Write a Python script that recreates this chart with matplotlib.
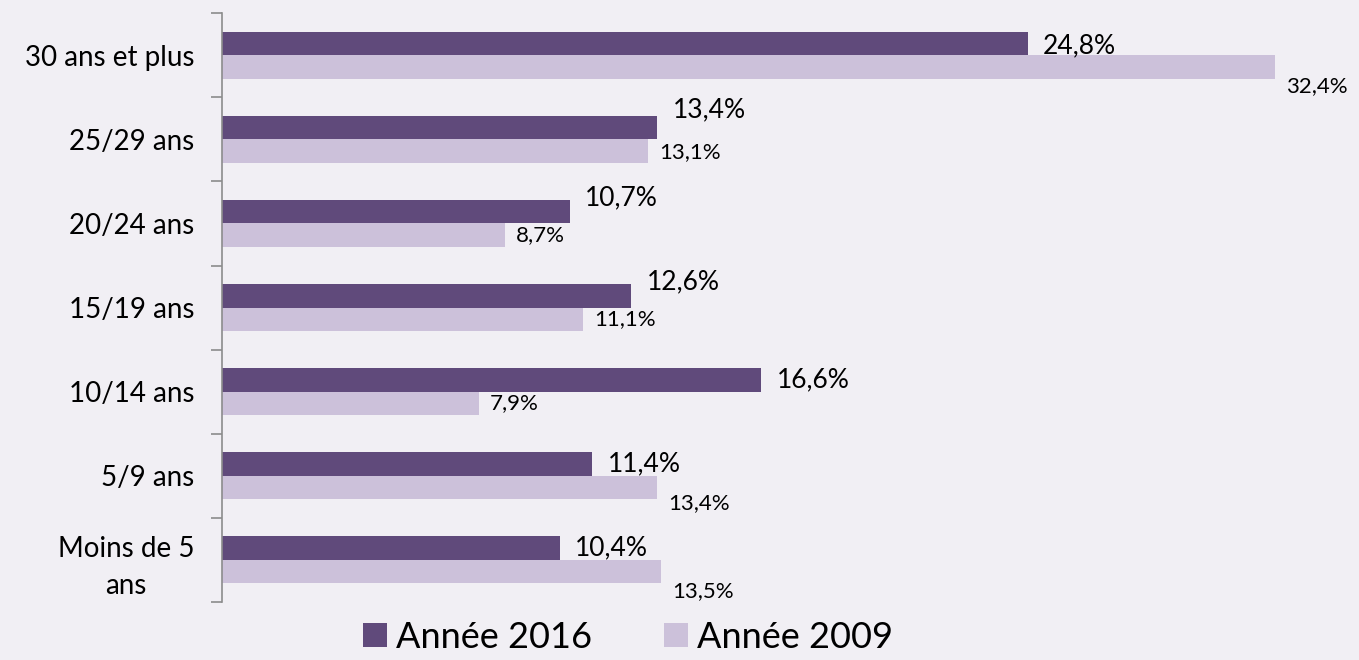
import matplotlib.pyplot as plt
import numpy as np

categories = ["Moins de 5\nans", "5/9 ans", "10/14 ans", "15/19 ans", "20/24 ans", "25/29 ans", "30 ans et plus"]
v2016 = [10.4, 11.4, 16.6, 12.6, 10.7, 13.4, 24.8]
v2009 = [13.5, 13.4, 7.9, 11.1, 8.7, 13.1, 32.4]
series_names = ["Année 2016", "Année 2009"]

# vertical nudges of the value labels (points), like the original layout
dy2016 = [0, 0, 0, 10, 10, 13, -2]
dy2009 = [-14, -11, 0, 0, 0, -1, -14]

bg = "#F1EFF4"
dark = "#604A7B"
light = "#CCC1DA"

plt.rcParams['font.family'] = ['Lato', 'DejaVu Sans']

fig = plt.figure(figsize=(13.59, 6.6), dpi=100, facecolor=bg)
ax = fig.add_axes([0.1634, 0.088, 0.8366, 0.892], facecolor=bg)

y = np.arange(len(categories))
h = 0.28
b1 = ax.barh(y + h / 2, v2016, height=h, color=dark, label=series_names[0])
b2 = ax.barh(y - h / 2, v2009, height=h, color=light, label=series_names[1])

for k in range(len(y)):
	ax.annotate(f"{v2016[k]:.1f}%".replace(".", ","), (v2016[k], y[k] + h / 2),
		xytext=(11, dy2016[k]), textcoords="offset points",
		va="center", ha="left", fontsize=19)
	ax.annotate(f"{v2009[k]:.1f}%".replace(".", ","), (v2009[k], y[k] - h / 2),
		xytext=(8, dy2009[k]), textcoords="offset points",
		va="center", ha="left", fontsize=16)

ax.set_xlim(0, 35)
ax.set_ylim(-0.5, len(categories) - 0.5)
ax.set_yticks(y)
ax.set_yticklabels(categories, fontsize=20, ha="right", multialignment="center",
	linespacing=1.5)
ax.tick_params(axis="y", length=0, pad=20)
ax.set_yticks(np.arange(len(categories) + 1) - 0.5, minor=True)
ax.tick_params(axis="y", which="minor", length=8, color="#8c8c8c", width=1.2)
ax.set_xticks([])
for s in ["top", "right", "bottom"]:
	ax.spines[s].set_visible(False)
ax.spines["left"].set_color("#8c8c8c")
ax.spines["left"].set_linewidth(1.2)

fig.legend(handles=[b1, b2], loc="lower center", ncol=2, frameon=False,
	fontsize=26, bbox_to_anchor=(0.462, -0.04), handlelength=0.65, handleheight=0.65,
	handletextpad=0.25, columnspacing=2.0)

fig.savefig("out.png", dpi=100, facecolor=bg)
